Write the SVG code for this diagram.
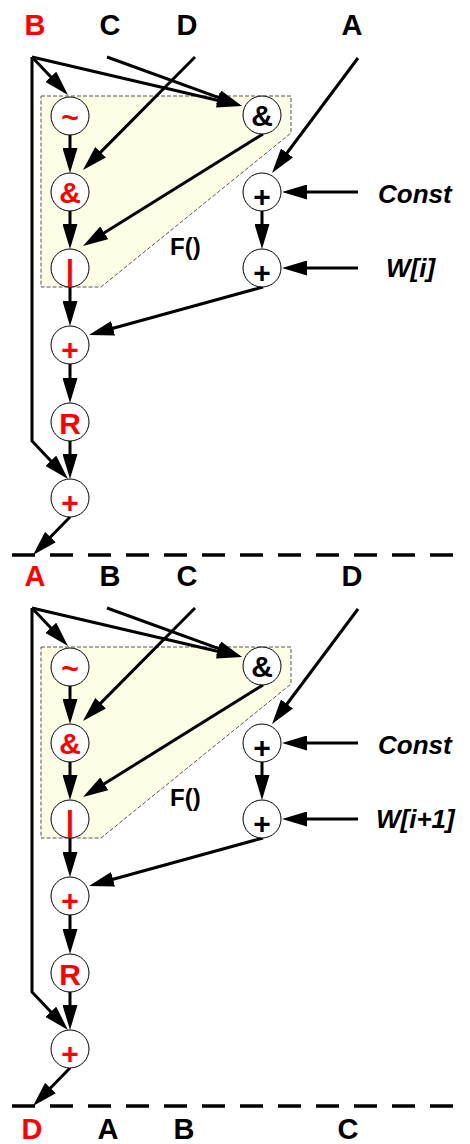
<svg xmlns="http://www.w3.org/2000/svg" width="470" height="1144" viewBox="0 0 470 1144">
<defs>
<style>
.lbl{font-family:"Liberation Sans",Arial,sans-serif;font-weight:bold;font-size:29px;text-anchor:middle;fill:#000}
.nd circle{fill:#fff;stroke:#000;stroke-width:1}
.nt{font-family:"Liberation Sans",Arial,sans-serif;font-weight:bold;font-size:30px;text-anchor:middle;fill:#000}
.it{font-family:"Liberation Sans",Arial,sans-serif;font-weight:bold;font-style:italic;font-size:26px;fill:#000}
.fl{font-family:"Liberation Sans",Arial,sans-serif;font-weight:bold;font-size:24px;fill:#000}
.c{stroke:#000;stroke-width:3;fill:none;marker-end:url(#ah)}
.region{fill:#fdfde6;stroke:#555;stroke-width:1;stroke-dasharray:4 2}
.sep{stroke:#000;stroke-width:3.5;stroke-dasharray:23 15}
text.red{fill:#ff0000}
</style>
<marker id="ah" viewBox="0 0 25 15" markerWidth="25" markerHeight="15" refX="15" refY="7.5" orient="auto" markerUnits="userSpaceOnUse">
<path d="M0,0 L25,7.5 L0,15 z" fill="#000"/>
</marker>
</defs>
<rect width="470" height="1144" fill="#fff"/>

<!-- regions -->
<g id="regions">
<polygon id="F1" class="region" points="41,96 291,96 291,133 101,287 41,287"/>
<polygon id="F2" class="region" points="41,647 291,647 291,684 101,838 41,838"/>
</g>

<!-- separators -->
<g id="separators">
<line class="sep" x1="12" y1="555" x2="460" y2="555"/>
<line class="sep" x1="12" y1="1106" x2="460" y2="1106"/>
</g>

<!-- labels -->
<g id="labels">
<text class="lbl red" x="35" y="35">B</text>
<text class="lbl" x="110" y="35">C</text>
<text class="lbl" x="187" y="35">D</text>
<text class="lbl" x="352" y="35">A</text>
<text class="lbl red" x="35" y="586">A</text>
<text class="lbl" x="110" y="586">B</text>
<text class="lbl" x="187" y="586">C</text>
<text class="lbl" x="352" y="586">D</text>
<text class="lbl red" x="32" y="1139">D</text>
<text class="lbl" x="108" y="1139">A</text>
<text class="lbl" x="184" y="1139">B</text>
<text class="lbl" x="348" y="1139">C</text>
<text class="it" x="378" y="203">Const</text>
<text class="it" x="386" y="277">W[i]</text>
<text class="it" x="378" y="754">Const</text>
<text class="it" x="376" y="828">W[i+1]</text>
<text class="fl" x="170" y="255">F()</text>
<text class="fl" x="170" y="806">F()</text>
</g>

<!-- connectors -->
<g id="connectors">
<g id="conn1">
<line class="c" x1="32" y1="57" x2="61.1" y2="87.7"/>
<line class="c" x1="32" y1="57" x2="232.3" y2="103.7"/>
<line class="c" x1="107" y1="57" x2="232.6" y2="102.6"/>
<line class="c" x1="195" y1="57" x2="90" y2="162.9"/>
<line class="c" x1="70" y1="135" x2="70" y2="163"/>
<line class="c" x1="70" y1="211" x2="70" y2="239"/>
<line class="c" x1="263" y1="134" x2="91.5" y2="240.7"/>
<line class="c" x1="358" y1="58" x2="278" y2="165"/>
<line class="c" x1="358" y1="192" x2="292" y2="192"/>
<line class="c" x1="262" y1="211" x2="262" y2="239"/>
<line class="c" x1="358" y1="268" x2="292" y2="268"/>
<line class="c" x1="263" y1="287" x2="98.6" y2="332.3"/>
<line class="c" x1="70" y1="287" x2="70" y2="316"/>
<line class="c" x1="70" y1="364" x2="70" y2="393"/>
<line class="c" x1="70" y1="441" x2="70" y2="469"/>
<path class="c" d="M32,57 L32,441 L61.1,471.7"/>
<line class="c" x1="70" y1="517" x2="40" y2="547.8"/>
</g>
<g id="conn2" transform="translate(0,551)">
<line class="c" x1="32" y1="57" x2="61.1" y2="87.7"/>
<line class="c" x1="32" y1="57" x2="232.3" y2="103.7"/>
<line class="c" x1="107" y1="57" x2="232.6" y2="102.6"/>
<line class="c" x1="195" y1="57" x2="90" y2="162.9"/>
<line class="c" x1="70" y1="135" x2="70" y2="163"/>
<line class="c" x1="70" y1="211" x2="70" y2="239"/>
<line class="c" x1="263" y1="134" x2="91.5" y2="240.7"/>
<line class="c" x1="358" y1="58" x2="278" y2="165"/>
<line class="c" x1="358" y1="192" x2="292" y2="192"/>
<line class="c" x1="262" y1="211" x2="262" y2="239"/>
<line class="c" x1="358" y1="268" x2="292" y2="268"/>
<line class="c" x1="263" y1="287" x2="98.6" y2="332.3"/>
<line class="c" x1="70" y1="287" x2="70" y2="316"/>
<line class="c" x1="70" y1="364" x2="70" y2="393"/>
<line class="c" x1="70" y1="441" x2="70" y2="469"/>
<path class="c" d="M32,57 L32,441 L61.1,471.7"/>
<line class="c" x1="70" y1="517" x2="40" y2="547.8"/>
</g>
</g>

<!-- nodes section 1 -->
<g id="not1" class="nd"><circle cx="70" cy="116" r="19"/><text class="nt red" x="70" y="128">~</text></g>
<g id="and1" class="nd"><circle cx="70" cy="192" r="19"/><text class="nt red" x="70" y="203">&amp;</text></g>
<g id="or1" class="nd"><circle cx="70" cy="268" r="19"/><text class="nt red" x="70" y="281">|</text></g>
<g id="add1a" class="nd"><circle cx="70" cy="345" r="19"/><text class="nt red" x="70" y="360">+</text></g>
<g id="rot1" class="nd"><circle cx="70" cy="422" r="19"/><text class="nt red" x="70" y="434">R</text></g>
<g id="add1b" class="nd"><circle cx="70" cy="498" r="19"/><text class="nt red" x="70" y="513">+</text></g>
<g id="andB1" class="nd"><circle cx="262" cy="115" r="19"/><text class="nt" x="262" y="126">&amp;</text></g>
<g id="addC1" class="nd"><circle cx="262" cy="192" r="19"/><text class="nt" x="262" y="207">+</text></g>
<g id="addW1" class="nd"><circle cx="262" cy="268" r="19"/><text class="nt" x="262" y="283">+</text></g>

<!-- nodes section 2 -->
<g id="not2" class="nd"><circle cx="70" cy="667" r="19"/><text class="nt red" x="70" y="679">~</text></g>
<g id="and2" class="nd"><circle cx="70" cy="743" r="19"/><text class="nt red" x="70" y="754">&amp;</text></g>
<g id="or2" class="nd"><circle cx="70" cy="819" r="19"/><text class="nt red" x="70" y="832">|</text></g>
<g id="add2a" class="nd"><circle cx="70" cy="896" r="19"/><text class="nt red" x="70" y="911">+</text></g>
<g id="rot2" class="nd"><circle cx="70" cy="973" r="19"/><text class="nt red" x="70" y="985">R</text></g>
<g id="add2b" class="nd"><circle cx="70" cy="1049" r="19"/><text class="nt red" x="70" y="1064">+</text></g>
<g id="andB2" class="nd"><circle cx="262" cy="666" r="19"/><text class="nt" x="262" y="677">&amp;</text></g>
<g id="addC2" class="nd"><circle cx="262" cy="743" r="19"/><text class="nt" x="262" y="758">+</text></g>
<g id="addW2" class="nd"><circle cx="262" cy="819" r="19"/><text class="nt" x="262" y="834">+</text></g>
</svg>
